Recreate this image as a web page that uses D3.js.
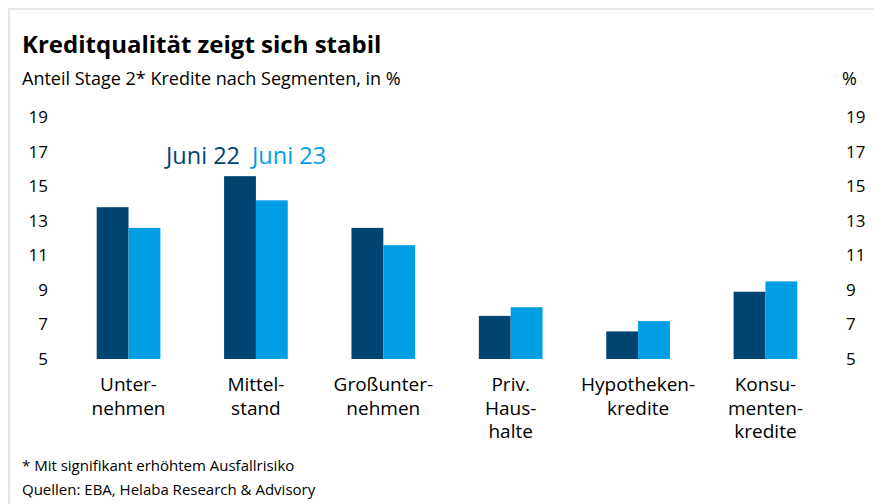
<!DOCTYPE html>
<html>
<head>
<meta charset="utf-8">
<script src="https://cdn.jsdelivr.net/npm/d3@7"></script>
<style>
	body { margin: 0; background: #fff; }
	text { font-family: "Open Sans", "Noto Sans", sans-serif; fill: #000; }
</style>
</head>
<body>
<div id="graph"></div>
<script>
var categories = [
	["Unter-", "nehmen"],
	["Mittel-", "stand"],
	["Großunter-", "nehmen"],
	["Priv.", "Haus-", "halte"],
	["Hypotheken-", "kredite"],
	["Konsu-", "menten-", "kredite"]
];
var juni22 = [13.8, 15.6, 12.6, 7.5, 6.6, 8.9];
var juni23 = [12.6, 14.2, 11.6, 8.0, 7.2, 9.5];
var seriesNames = ["Juni 22", "Juni 23"];
var ticks = [5, 7, 9, 11, 13, 15, 17, 19];

var width = 874, height = 504;
var colors = ["#004571", "#009fe3"];

var svg = d3.select("#graph")
	.append("svg")
	.attr("width", width)
	.attr("height", height);

// frame
svg.append("line")
	.attr("x1", 8).attr("x2", width).attr("y1", 9).attr("y2", 9)
	.attr("style", "stroke:#e6e6e6;stroke-width:2");
svg.append("line")
	.attr("x1", 9).attr("x2", 9).attr("y1", 8).attr("y2", height)
	.attr("style", "stroke:#e6e6e6;stroke-width:2");

svg.append("text")
	.attr("x", 22).attr("y", 53)
	.attr("font-size", "24px")
	.attr("font-weight", "bold")
	.text("Kreditqualität zeigt sich stabil");

svg.append("text")
	.attr("x", 22).attr("y", 85)
	.attr("font-size", "18px")
	.text("Anteil Stage 2* Kredite nach Segmenten, in %");

svg.append("text")
	.attr("x", 842).attr("y", 85)
	.attr("font-size", "18px")
	.text("%");

var y = d3.scaleLinear().domain([5, 19]).range([359, 117.5]);

var x = d3.scaleBand()
	.domain(d3.range(categories.length))
	.range([33, 861])
	.padding(0.5);

var xs = d3.scaleBand()
	.domain([0, 1])
	.range([0, x.bandwidth()]);

// axes (labels only)
var left = svg.append("g")
	.attr("transform", "translate(50,0)")
	.call(d3.axisLeft(y).tickValues(ticks).tickSize(0).tickPadding(2));
var right = svg.append("g")
	.attr("transform", "translate(844,0)")
	.call(d3.axisRight(y).tickValues(ticks).tickSize(0).tickPadding(2));
[left, right].forEach(function (g) {
	g.select(".domain").remove();
	g.selectAll("text")
		.attr("font-size", "17px")
		.attr("fill", "#000")
		.style("font-family", "'Open Sans', 'Noto Sans', sans-serif");
});

var data = categories.map(function (c, i) {
	return { i: i, values: [juni22[i], juni23[i]] };
});

var groups = svg.selectAll(".grp")
	.data(data)
	.enter()
	.append("g")
	.attr("class", "grp")
	.attr("transform", function (d) { return "translate(" + x(d.i) + ",0)"; });

groups.selectAll("rect")
	.data(function (d) { return d.values.map(function (v, s) { return { s: s, v: v }; }); })
	.enter()
	.append("rect")
	.attr("x", function (d) { return xs(d.s); })
	.attr("width", xs.bandwidth())
	.attr("y", function (d) { return y(d.v); })
	.attr("height", function (d) { return y(5) - y(d.v); })
	.attr("fill", function (d) { return colors[d.s]; });

// category labels
groups.each(function (d) {
	var t = d3.select(this).append("text")
		.attr("text-anchor", "middle")
		.attr("font-size", "19px");
	categories[d.i].forEach(function (line, k) {
		t.append("tspan")
			.attr("x", x.bandwidth() / 2)
			.attr("y", 391 + k * 23.5)
			.text(line);
	});
});

// legend
var legend = svg.append("text")
	.attr("x", 166).attr("y", 164)
	.attr("font-size", "23.5px");
seriesNames.forEach(function (n, s) {
	legend.append("tspan")
		.attr("dx", s ? 12 : 0)
		.attr("fill", colors[s])
		.text(n);
});

svg.append("text")
	.attr("x", 22).attr("y", 471)
	.attr("font-size", "15px")
	.text("* Mit signifikant erhöhtem Ausfallrisiko");
svg.append("text")
	.attr("x", 22).attr("y", 495)
	.attr("font-size", "15px")
	.text("Quellen: EBA, Helaba Research & Advisory");
</script>
</body>
</html>
